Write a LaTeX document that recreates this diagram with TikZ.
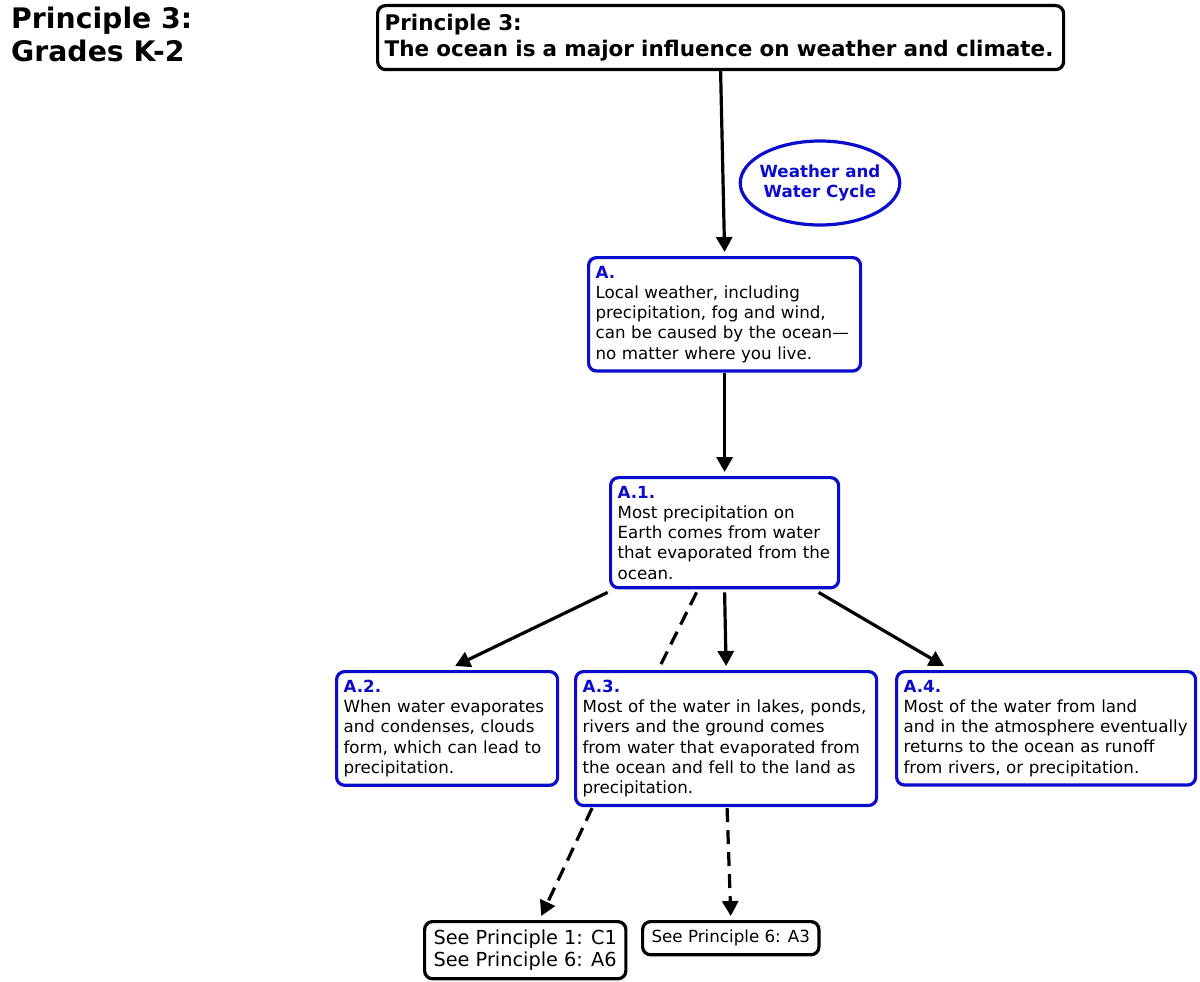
\documentclass[tikz,border=0pt]{standalone}
\usepackage{fontspec}
\setmainfont{DejaVu Sans}
\usetikzlibrary{arrows.meta,shapes.geometric}
\definecolor{lblue}{RGB}{12,12,204}
\newcommand{\body}{\fontsize{16.7}{20.2}\selectfont}
\newcommand{\lab}[1]{{\color{lblue}\bfseries #1}}

\begin{document}
\begin{tikzpicture}[x=1pt, y=-1pt,
        blok/.style = {draw=lblue, line width=3.2pt, rounded corners=8pt, anchor=north west,
                       inner xsep=7pt, inner ysep=8.5pt, align=left, font=\body},
        seebox/.style = {draw=black, line width=3.2pt, rounded corners=8pt, anchor=north west,
                       inner sep=7pt, align=left},
        arr/.style = {line width=3.2pt, -{Triangle[length=15pt,width=16pt]}},
        dsh/.style = {line width=3.2pt, dash pattern=on 14pt off 8pt}]
            \useasboundingbox (0,0) rectangle (1200,982);
            \node[anchor=north west, inner sep=0pt, align=left, font=\fontsize{28.3}{33}\selectfont\bfseries]
                (title) at (11,7) {Principle 3:\\Grades K-2};
            \node[seebox, text width=672pt, font=\fontsize{21.5}{26}\selectfont\bfseries, inner ysep=8.5pt]
                (p3) at (376,4) {Principle 3:\\The ocean is a major influence on weather and climate.};
            \node[ellipse, draw=lblue, line width=3.2pt, minimum width=156pt, minimum height=84pt,
                  inner xsep=-4pt, inner ysep=0pt, align=center, text=lblue,
                  font=\fontsize{16.7}{20.5}\selectfont\bfseries]
                (wwc) at (820,183) {Weather and\\ Water Cycle};
            \node[blok, text width=258pt] (a) at (587,256)
                {\lab{A.}\\Local weather, including\\precipitation, fog and wind,\\can be caused by the ocean---\\no matter where you live.};
            \node[blok, text width=214pt] (a1) at (609,476)
                {\lab{A.1.}\\Most precipitation on\\Earth comes from water\\that evaporated from the\\ocean.};
            \node[blok, text width=207pt] (a2) at (335,670)
                {\lab{A.2.}\\When water evaporates\\and condenses, clouds\\form, which can lead to\\precipitation.};
            \node[blok, text width=287pt] (a3) at (574,670)
                {\lab{A.3.}\\Most of the water in lakes, ponds,\\rivers and the ground comes\\from water that evaporated from\\the ocean and fell to the land as\\precipitation.};
            \node[blok, text width=285pt] (a4) at (895,670)
                {\lab{A.4.}\\Most of the water from land\\and in the atmosphere eventually\\returns to the ocean as runoff\\from rivers, or precipitation.};
            \node[seebox, font=\fontsize{19.3}{22.5}\selectfont, inner xsep=9pt, inner ysep=8pt] (c1) at (423,920)
                {See Principle 1: C1\\See Principle 6: A6};
            \node[seebox, font=\fontsize{16.7}{20}\selectfont, inner xsep=9pt, inner ysep=8.5pt] (s6) at (641,920)
                {See Principle 6: A3};

            \draw[arr] (p3.south) -- ([yshift=4pt]a.north);
            \draw[arr] (a.south) -- ([yshift=4pt]a1.north);
            \draw[arr] ([xshift=-117pt,yshift=-3pt]a1.south) -- ([xshift=8pt,yshift=4pt]a2.north);
            \draw[dsh] ([xshift=-28pt,yshift=-3pt]a1.south) -- ([xshift=-68pt]a3.north);
            \draw[arr] ([yshift=-3pt]a1.south) -- ([yshift=4pt]a3.north);
            \draw[arr] ([xshift=94pt,yshift=-3pt]a1.south) -- ([xshift=-102pt,yshift=4pt]a4.north);
            \draw[arr, dsh] ([xshift=-134pt,yshift=-1pt]a3.south) -- ([xshift=16pt,yshift=4pt]c1.north);
            \draw[arr, dsh] ([xshift=1pt,yshift=-1pt]a3.south) -- ([yshift=4pt]s6.north);

        \end{tikzpicture}
\end{document}
